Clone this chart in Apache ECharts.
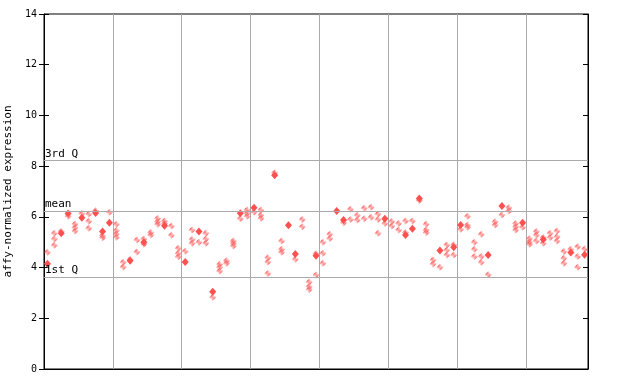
<!DOCTYPE html>
<html><head><meta charset="utf-8">
<script src="https://cdn.jsdelivr.net/npm/echarts@6/dist/echarts.min.js"></script>
<style>html,body{margin:0;padding:0;background:#fff}#c{width:640px;height:384px}</style>
</head><body><div id="c"></div>
<script>
// Per-sample filled (highlighted) value; null when absent
var filledValues = [4.15,null,5.35,6.13,null,5.96,null,6.15,5.42,5.77,
  null,null,4.27,null,5.0,null,null,5.65,null,null,
  4.22,null,5.42,null,3.05,null,null,null,6.14,null,
  6.36,null,null,7.64,null,5.67,4.54,null,null,4.47,
  null,null,6.23,5.88,null,null,null,null,null,5.93,
  null,null,5.28,5.53,6.72,null,null,4.67,null,4.80,
  5.68,null,null,null,4.50,null,6.43,null,null,5.77,
  null,null,5.11,null,null,null,4.59,null,4.51];
// Per-sample other replicate values
var hollowValues = [[4.60],[5.35,5.13,4.88],[5.42],[6.02],[5.72,5.58,5.44],[6.13],[6.11,5.83,5.55],[6.24],[5.26,5.18],[6.18],
  [5.71,5.46,5.32,5.2],[4.21,4.02],[4.32],[5.09,4.61],[5.13,4.92],[5.38,5.28],[5.94,5.81,5.71],[5.84,5.74],[5.64,5.27],[4.76,4.56,4.43],
  [4.64],[5.48,5.11,4.96],[5.0],[5.35,5.13,4.96],[2.83],[4.13,4.01,3.86],[4.27,4.17],[5.05,4.96,4.85],[5.93],[6.27,6.14,6.02],
  [6.18],[6.27,6.07,5.95],[4.39,4.22,3.77],[7.74],[5.05,4.72,4.60],[],[4.33],[5.90,5.61],[3.43,3.25,3.14],[4.55,3.71],
  [5.0,4.56,4.17],[5.31,5.15],[],[5.77],[6.30,5.90],[6.06,5.88],[6.34,5.93],[6.38,5.98],[6.11,5.90,5.35],[5.74],
  [5.82,5.64],[5.74,5.48],[5.84,5.38],[5.84],[6.65],[5.71,5.48,5.38],[4.30,4.14],[4.01],[4.89,4.69,4.50],[4.90,4.50],
  [5.51],[6.02,5.68,5.59],[5.0,4.72,4.44],[5.31,4.44,4.21],[3.72],[5.81,5.68],[6.07],[6.36,6.23],[5.74,5.61,5.48],[5.59],
  [5.14,5.01,4.92],[5.42,5.28,5.05],[5.19,4.96],[5.35,5.19],[5.44,5.22,5.05],[4.63,4.37,4.17],[4.72],[4.82,4.44,4.01],[4.73]];
var refLines = [{name:'3rd Q', value:8.23},{name:'mean', value:6.23},{name:'1st Q', value:3.63}];
var yTicks = [0,2,4,6,8,10,12,14];

var filledData = [], hollowData = [];
filledValues.forEach(function(v,i){ if(v!==null) filledData.push([i+0.5, v]); });
hollowValues.forEach(function(arr,i){ arr.forEach(function(v){ hollowData.push([i+0.5, v]); }); });

var red = '#ff5050';
var pc = document.createElement('canvas'); pc.width = 2; pc.height = 2;
var pctx = pc.getContext('2d'); pctx.fillStyle = red;
pctx.fillRect(0,0,1,1); pctx.fillRect(1,1,1,1);

var mono = 'DejaVu Sans Mono';
var chart = echarts.init(document.getElementById('c'), null, {renderer:'canvas'});
var yBase = {type:'value', min:yTicks[0], max:yTicks[yTicks.length-1], interval:2, splitLine:{show:false}};
chart.setOption({
  animation:false,
  grid:{left:44, right:52, top:14, bottom:15, containLabel:false, outerBoundsMode:'none',
    show:true, borderColor:'#000', borderWidth:1, backgroundColor:'transparent'},
  xAxis:{type:'value', min:0, max:filledValues.length, interval:10,
    axisLine:{lineStyle:{color:'#000'}}, axisTick:{show:false}, axisLabel:{show:false},
    splitLine:{show:true, lineStyle:{color:'#aaaaaa', width:1}}},
  yAxis:[
    Object.assign({}, yBase, {position:'left', axisLine:{show:true, lineStyle:{color:'#000'}},
      axisTick:{show:true, inside:false, length:5, lineStyle:{color:'#000'}},
      axisLabel:{color:'#000', fontFamily:mono, fontSize:10, margin:7},
      name:'affy-normalized expression', nameLocation:'middle', nameGap:27, nameRotate:90,
      nameTextStyle:{color:'#000', fontFamily:mono, fontSize:11}}),
    Object.assign({}, yBase, {position:'left', offset:0, axisLine:{show:false},
      axisTick:{show:true, inside:true, length:5, lineStyle:{color:'#000'}}, axisLabel:{show:false}}),
    Object.assign({}, yBase, {position:'right', offset:0, axisLine:{show:true, lineStyle:{color:'#000'}},
      axisTick:{show:true, inside:true, length:5, lineStyle:{color:'#000'}}, axisLabel:{show:false}})
  ],
  series:[
    {type:'scatter', data:hollowData, symbol:'diamond', symbolSize:[7,7], silent:true,
      itemStyle:{color:{image:pc, repeat:'repeat'}, opacity:1},
      markLine:{silent:true, symbol:'none', animation:false,
        lineStyle:{color:'#aaaaaa', type:'solid', width:1},
        label:{show:true, position:'insideStartTop', formatter:'{b}', color:'#000', fontFamily:mono, fontSize:11, distance:[1,1]},
        emphasis:{disabled:true},
        data: refLines.map(function(r){ return {name:r.name, yAxis:r.value}; })}},
    {type:'scatter', data:filledData, symbol:'diamond', symbolSize:[7,8], silent:true,
      itemStyle:{color:red, opacity:1}}
  ]
});
</script></body></html>
